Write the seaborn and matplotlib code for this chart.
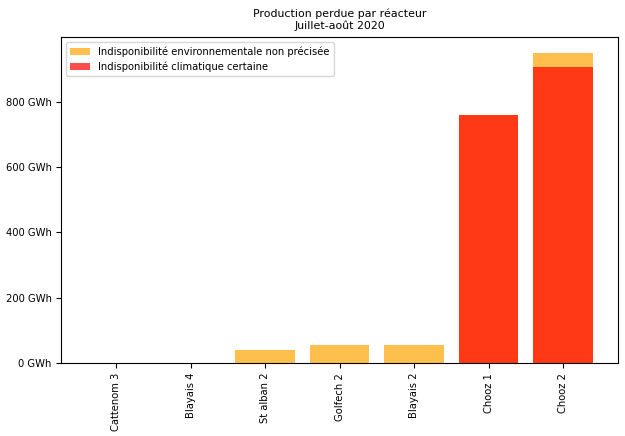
import pandas as pd
import seaborn as sns
import matplotlib.pyplot as plt
from matplotlib.ticker import FuncFormatter

reacteurs = ["Cattenom 3", "Blayais 4", "St alban 2", "Golfech 2", "Blayais 2", "Chooz 1", "Chooz 2"]
# production perdue totale (GWh) et part climatique certaine
total = [0, 0, 40, 55, 55, 760, 950]
climatique = [0, 0, 0, 0, 0, 760, 905]

df = pd.DataFrame({"reacteur": reacteurs, "total": total, "climatique": climatique})

plt.rcParams["font.size"] = 7.2
fig, ax = plt.subplots(figsize=(6.25, 4.36), dpi=100)
fig.subplots_adjust(left=0.098, right=0.989, top=0.915, bottom=0.167)

sns.barplot(data=df, x="reacteur", y="total", color="orange", alpha=0.7, saturation=1,
            linewidth=0, width=0.8, label="Indisponibilité environnementale non précisée", ax=ax)
sns.barplot(data=df, x="reacteur", y="climatique", color="red", alpha=0.7, saturation=1,
            linewidth=0, width=0.8, label="Indisponibilité climatique certaine", ax=ax)

ax.set_xlim(-0.74, 6.74)
ax.set_ylim(0, max(total) * 1.05)
ax.yaxis.set_major_formatter(FuncFormatter(lambda v, p: f"{v:.0f} GWh"))
ax.set_xlabel("")
ax.set_ylabel("")
plt.xticks(rotation=90)
ax.set_title("Production perdue par réacteur\nJuillet-août 2020", fontsize=7.9)
ax.legend(loc="upper left")

plt.savefig("out.png")
